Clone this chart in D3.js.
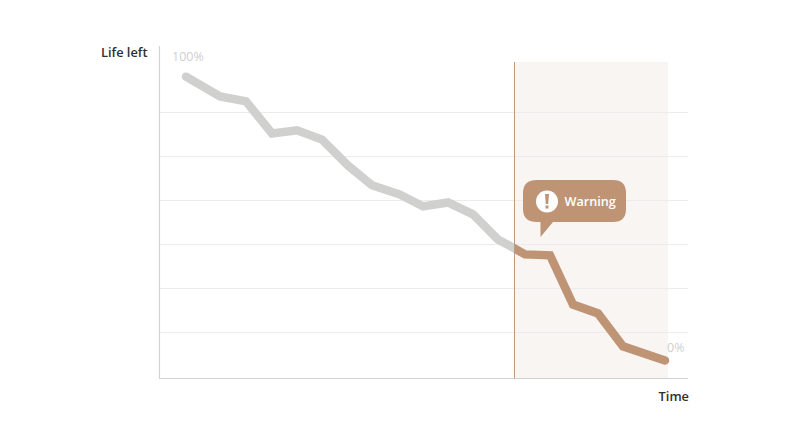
<!DOCTYPE html>
<html><head><meta charset="utf-8">
<script src="https://cdn.jsdelivr.net/npm/d3@7"></script>
<style>html,body{margin:0;background:#fff}svg{display:block}text{font-family:"Open Sans",sans-serif}</style>
</head><body><svg id="c" width="807" height="439"></svg>
<script>
const time = [26,60,86,112,137,162,188,212,240,263,288,313,338,355,365,390,413,438,463,505];
const lifeLeft = [6.86,6.41,6.30,5.57,5.64,5.43,4.84,4.39,4.18,3.91,4.0,3.73,3.16,2.95,2.82,2.80,1.68,1.48,0.73,0.41];
const gridTicks = [1.05,2.05,3.05,4.05,5.05,6.05];
const warningStart = 355, warningEnd = 508;
const yLabel = "Life left", xLabel = "Time", warningLabel = "Warning", startLabel = "100%", endLabel = "0%";

const svg = d3.select("#c");
const x = d3.scaleLinear().domain([0,528]).range([160,688]);
const y = d3.scaleLinear().domain([0,7.545]).range([378.5,46.5]);

svg.append("rect").attr("x",x(warningStart)).attr("y",62).attr("width",x(warningEnd)-x(warningStart)).attr("height",y(0)-62).attr("fill","#f9f5f2");

svg.append("g").selectAll("line").data(gridTicks).join("line")
  .attr("x1",x(0)).attr("x2",x(528)).attr("y1",d=>Math.round(y(d))+.5).attr("y2",d=>Math.round(y(d))+.5)
  .attr("stroke","#ececec").attr("stroke-width",1);

svg.append("line").attr("x1",159.5).attr("x2",159.5).attr("y1",46).attr("y2",379).attr("stroke","#d2d2d2").attr("stroke-width",1.2);
svg.append("line").attr("x1",159).attr("x2",688).attr("y1",378.5).attr("y2",378.5).attr("stroke","#d2d2d2").attr("stroke-width",1.2);

const pts = time.map((t,i)=>[t,lifeLeft[i]]);
const line = d3.line().x(d=>x(d[0])).y(d=>y(d[1]));
const defs = svg.append("defs");
defs.append("clipPath").attr("id","before").append("rect").attr("x",0).attr("y",0).attr("width",x(warningStart)-1).attr("height",439);
defs.append("clipPath").attr("id","after").append("rect").attr("x",x(warningStart)-1).attr("y",0).attr("width",807).attr("height",439);
svg.append("path").attr("d",line(pts)).attr("clip-path","url(#before)").attr("fill","none").attr("stroke","#d0d0cf").attr("stroke-width",8.5).attr("stroke-linejoin","miter").attr("stroke-linecap","round");
svg.append("path").attr("d",line(pts)).attr("clip-path","url(#after)").attr("fill","none").attr("stroke","#bf9475").attr("stroke-width",8.5).attr("stroke-linejoin","miter").attr("stroke-linecap","round");
svg.append("line").attr("x1",x(warningStart)-.5).attr("x2",x(warningStart)-.5).attr("y1",62).attr("y2",y(0)).attr("stroke","#b99a82").attr("stroke-width",1);

svg.append("text").attr("x",101).attr("y",56.500).attr("font-size",12.800).attr("font-weight",600).attr("fill","#2e2e2e").text(yLabel);
svg.append("text").attr("x",689).attr("y",400.500).attr("text-anchor","end").attr("font-size",12.800).attr("font-weight",600).attr("fill","#2e2e2e").text(xLabel);
svg.append("text").attr("x",172).attr("y",61).attr("font-size",12.500).attr("fill","#cfcfcf").text(startLabel);
svg.append("text").attr("x",667).attr("y",352).attr("font-size",12.500).attr("fill","#cfcfcf").text(endLabel);

const g = svg.append("g");
g.append("path").attr("d","M537,180H613Q626,180 626,193V209Q626,222 613,222H553L540.500,237V222H537Q523,222 523,209V193Q523,180 537,180Z").attr("fill","#bf9475");
g.append("circle").attr("cx",547).attr("cy",201.500).attr("r",11).attr("fill","#fff");
g.append("path").attr("d","M545,194H549L548.200,204H545.800Z").attr("fill","#bf9475");
g.append("rect").attr("x",545.500).attr("y",205.500).attr("width",3).attr("height",3).attr("fill","#bf9475");
g.append("text").attr("x",564.500).attr("y",205.500).attr("font-size",12.600).attr("font-weight",600).attr("fill","#fff").text(warningLabel);
</script></body></html>
